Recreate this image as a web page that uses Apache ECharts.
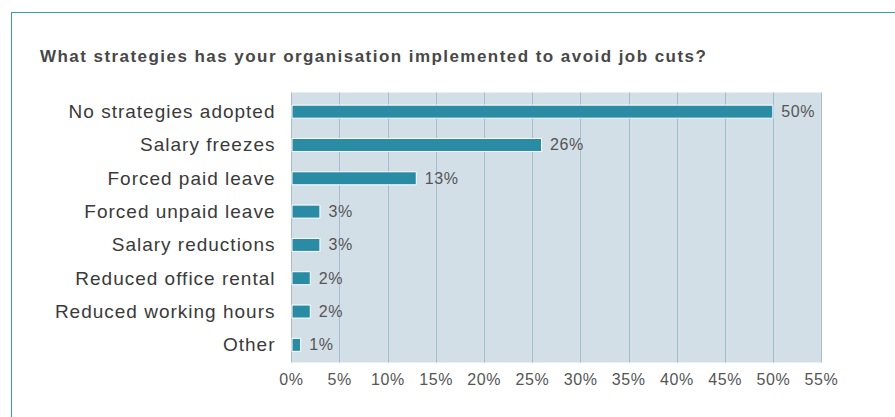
<!DOCTYPE html>
<html>
<head>
<meta charset="utf-8">
<script src="https://cdn.jsdelivr.net/npm/echarts@6/dist/echarts.min.js"></script>
<style>
  html, body { margin: 0; padding: 0; background: #fff; }
  #frame { position: absolute; left: 11px; top: 12px; width: 900px; height: 420px;
           border-left: 1.5px solid #3a9cb4; border-top: 1.5px solid #3a9cb4; }
  #chart { position: absolute; left: 0; top: 0; width: 895px; height: 417px; }
  #chart text { letter-spacing: 0.6px; }
</style>
</head>
<body>
<div id="frame"></div>
<div id="chart"></div>
<script>
const title = 'What strategies has your organisation implemented to avoid job cuts?';
const categories = [
  'No strategies adopted',
  'Salary freezes',
  'Forced paid leave',
  'Forced unpaid leave',
  'Salary reductions',
  'Reduced office rental',
  'Reduced working hours',
  'Other'
];
const values = [50, 26, 13, 3, 3, 2, 2, 1];
const axisMax = 55;
const axisStep = 5;

const FONT = '"Liberation Sans", Arial, sans-serif';
const chart = echarts.init(document.getElementById('chart'), null, { renderer: 'svg' });
chart.setOption({
  animation: false,
  title: {
    text: title,
    left: 35, top: 43,
    textStyle: { fontFamily: FONT, fontSize: 17, fontWeight: 'bold', color: '#484848' }
  },
  grid: [
    // panel with the shaded background and the vertical gridlines
    { left: 291.5, width: 530, top: 92.5, height: 270,
      show: true, backgroundColor: '#d3dfe7', borderWidth: 0 },
    // bars and category labels
    { left: 291.5, width: 530, top: 95, height: 266.5 }
  ],
  xAxis: [
    {
      gridIndex: 0, type: 'value', min: 0, max: axisMax, interval: axisStep,
      axisLine: { show: false }, axisTick: { show: false },
      splitLine: { show: true, lineStyle: { color: '#a7bcd3', width: 1 } },
      axisLabel: {
        formatter: '{value}%', margin: 9,
        fontFamily: FONT, fontSize: 16, color: '#555'
      }
    },
    {
      gridIndex: 1, type: 'value', min: 0, max: axisMax, interval: axisStep, show: false,
      splitLine: { show: false }
    }
  ],
  yAxis: [
    { gridIndex: 0, type: 'value', show: false, splitLine: { show: false } },
    {
      gridIndex: 1, type: 'category', data: categories, inverse: true,
      axisLine: { show: false }, axisTick: { show: false },
      axisLabel: {
        margin: 16,
        fontFamily: FONT, fontSize: 19, color: '#3a3a3a'
      }
    }
  ],
  series: [{
    type: 'bar', xAxisIndex: 1, yAxisIndex: 1, data: values, barWidth: 14,
    itemStyle: { color: '#2a8ba5', borderColor: '#ffffff', borderWidth: 1 },
    label: {
      show: true, position: 'right', distance: 8, formatter: '{c}%',
      fontFamily: FONT, fontSize: 16, color: '#555'
    }
  }]
});

// wider tracking for the heading and the category names
function applyTracking() {
  document.querySelectorAll('#chart text').forEach(function (t) {
    const s = t.textContent;
    if (s === title) t.style.letterSpacing = '1.45px';
    else if (categories.indexOf(s) >= 0) t.style.letterSpacing = '1px';
  });
}
applyTracking();
chart.on('finished', applyTracking);
</script>
</body>
</html>
